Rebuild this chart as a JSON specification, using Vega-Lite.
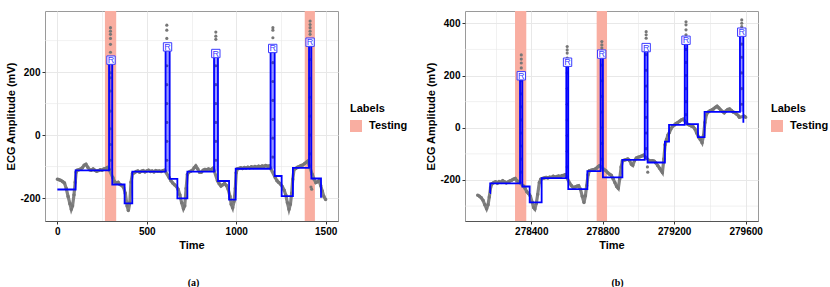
{
"$schema": "https://vega.github.io/schema/vega-lite/v6.json",
"padding": {"left": 5, "top": 10, "right": 0, "bottom": 0},
"spacing": 16,
"resolve": {"scale": {"x": "independent", "y": "independent", "color": "independent"}, "legend": {"color": "independent"}},
"config": {
 "font": "Liberation Sans",
 "view": {"stroke": "#9a9a9a", "strokeWidth": 1},
 "axis": {"labelFont": "Liberation Sans", "labelFontSize": 10, "labelFontWeight": "bold", "labelColor": "#000", "titleFont": "Liberation Sans", "titleFontSize": 11, "titleFontWeight": "bold", "titleColor": "#000", "tickColor": "#333", "tickSize": 3, "labelPadding": 2, "titlePadding": 3, "domain": false, "gridColor": "#e8e8e8", "labelOverlap": false},
 "axisX": {"domain": true, "domainColor": "#555"},
 "legend": {"titleFont": "Liberation Sans", "titleFontSize": 11, "titleFontWeight": "bold", "titleColor": "#000", "labelFont": "Liberation Sans", "labelFontSize": 11, "labelFontWeight": "bold", "labelColor": "#000", "symbolType": "square", "symbolSize": 144, "symbolStrokeWidth": 0, "symbolOpacity": 1, "labelOffset": 7, "titlePadding": 6, "padding": 0},
 "title": {"font": "Liberation Serif", "fontSize": 10, "fontWeight": "bold", "color": "#000"}
},
"datasets": {
 "gridA": [
  {"g":-100},{"g":100},{"g":300}
 ],
 "sigA": [
  {"t":0,"v":-140},{"t":10,"v":-142},{"t":20,"v":-144},{"t":30,"v":-148},{"t":40,"v":-152},{"t":50,"v":-170},{"t":60,"v":-195},{"t":70,"v":-218},{"t":78,"v":-236},{"t":85,"v":-225},{"t":93,"v":-190},{"t":100,"v":-150},{"t":105,"v":-118},{"t":110,"v":-112},{"t":120,"v":-110},{"t":130,"v":-108},{"t":140,"v":-104},{"t":150,"v":-96},{"t":160,"v":-93},{"t":170,"v":-102},{"t":180,"v":-110},{"t":190,"v":-112},{"t":200,"v":-108},{"t":210,"v":-112},{"t":220,"v":-115},{"t":230,"v":-113},{"t":240,"v":-110},{"t":250,"v":-112},{"t":260,"v":-108},{"t":270,"v":-106},{"t":280,"v":-103},{"t":290,"v":-110},
  {"t":310,"v":-135},{"t":320,"v":-148},{"t":330,"v":-152},{"t":340,"v":-150},{"t":350,"v":-157},{"t":360,"v":-160},{"t":370,"v":-166},{"t":380,"v":-185},{"t":390,"v":-225},{"t":397,"v":-240},{"t":405,"v":-215},{"t":412,"v":-150},{"t":420,"v":-122},{"t":430,"v":-120},{"t":440,"v":-116},{"t":450,"v":-114},{"t":460,"v":-118},{"t":470,"v":-115},{"t":480,"v":-113},{"t":490,"v":-117},{"t":500,"v":-114},{"t":510,"v":-112},{"t":520,"v":-116},{"t":530,"v":-114},{"t":540,"v":-117},{"t":550,"v":-113},{"t":560,"v":-115},{"t":570,"v":-114},{"t":580,"v":-116},{"t":590,"v":-113},{"t":600,"v":-112},
  {"t":625,"v":-135},{"t":635,"v":-145},{"t":645,"v":-152},{"t":655,"v":-158},{"t":665,"v":-163},{"t":675,"v":-172},{"t":685,"v":-190},{"t":695,"v":-215},{"t":705,"v":-234},{"t":712,"v":-225},{"t":720,"v":-170},{"t":727,"v":-125},{"t":735,"v":-118},{"t":745,"v":-115},{"t":755,"v":-112},{"t":765,"v":-104},{"t":774,"v":-98},{"t":785,"v":-108},{"t":795,"v":-118},{"t":805,"v":-118},{"t":815,"v":-112},{"t":825,"v":-109},{"t":835,"v":-110},{"t":845,"v":-108},{"t":855,"v":-110},{"t":865,"v":-108},{"t":872,"v":-105},
  {"t":895,"v":-145},{"t":905,"v":-155},{"t":915,"v":-162},{"t":925,"v":-158},{"t":935,"v":-154},{"t":945,"v":-160},{"t":955,"v":-172},{"t":965,"v":-195},{"t":972,"v":-220},{"t":980,"v":-231},{"t":988,"v":-210},{"t":995,"v":-170},{"t":1000,"v":-120},{"t":1006,"v":-108},{"t":1015,"v":-106},{"t":1025,"v":-104},{"t":1035,"v":-106},{"t":1045,"v":-103},{"t":1055,"v":-105},{"t":1065,"v":-102},{"t":1075,"v":-104},{"t":1085,"v":-101},{"t":1095,"v":-103},{"t":1105,"v":-100},{"t":1115,"v":-102},{"t":1125,"v":-99},{"t":1135,"v":-101},{"t":1145,"v":-98},{"t":1155,"v":-100},{"t":1165,"v":-97},{"t":1175,"v":-99},{"t":1185,"v":-98},
  {"t":1218,"v":-135},{"t":1228,"v":-145},{"t":1238,"v":-151},{"t":1248,"v":-156},{"t":1258,"v":-164},{"t":1268,"v":-175},{"t":1277,"v":-190},{"t":1286,"v":-215},{"t":1295,"v":-236},{"t":1303,"v":-220},{"t":1310,"v":-185},{"t":1316,"v":-140},{"t":1323,"v":-110},{"t":1333,"v":-106},{"t":1343,"v":-102},{"t":1353,"v":-100},{"t":1363,"v":-97},{"t":1373,"v":-95},{"t":1383,"v":-90},{"t":1393,"v":-86},{"t":1400,"v":-83},
  {"t":1425,"v":-125},{"t":1435,"v":-140},{"t":1445,"v":-151},{"t":1455,"v":-148},{"t":1463,"v":-145},{"t":1472,"v":-160},{"t":1481,"v":-178},{"t":1490,"v":-195},{"t":1500,"v":-205}
 ],
 "pkA": [
  {"t":297,"v":-80},{"t":297,"v":-30},{"t":297,"v":20},{"t":297,"v":76},{"t":297,"v":140},{"t":297,"v":182},{"t":297,"v":198},{"t":297,"v":263},{"t":297,"v":288},{"t":297,"v":307},{"t":297,"v":320},{"t":297,"v":330},{"t":297,"v":341},
  {"t":612,"v":-80},{"t":612,"v":-20},{"t":612,"v":40},{"t":612,"v":100},{"t":612,"v":160},{"t":612,"v":220},{"t":612,"v":307},{"t":612,"v":333},{"t":612,"v":349},
  {"t":886,"v":-80},{"t":886,"v":-20},{"t":886,"v":40},{"t":886,"v":100},{"t":886,"v":160},{"t":886,"v":220},{"t":886,"v":304},{"t":886,"v":314},{"t":886,"v":327},
  {"t":1205,"v":-70},{"t":1205,"v":-10},{"t":1205,"v":50},{"t":1205,"v":110},{"t":1205,"v":170},{"t":1205,"v":230},{"t":1205,"v":309},{"t":1205,"v":333},{"t":1205,"v":341},
  {"t":1413,"v":-60},{"t":1413,"v":0},{"t":1413,"v":60},{"t":1413,"v":120},{"t":1413,"v":180},{"t":1413,"v":240},{"t":1413,"v":320},{"t":1413,"v":330},{"t":1413,"v":341},{"t":1413,"v":351},{"t":1413,"v":362},{"t":1418,"v":-165},{"t":1422,"v":-172}
 ],
 "stepA": [
  {"t":0,"v":-173},{"t":102,"v":-112},{"t":289,"v":235},{"t":307,"v":-157},{"t":376,"v":-217},{"t":419,"v":-116},{"t":605,"v":280},{"t":628,"v":-139},{"t":671,"v":-201},{"t":727,"v":-116},{"t":876,"v":259},{"t":898,"v":-146},{"t":960,"v":-205},{"t":997,"v":-107},{"t":1192,"v":275},{"t":1215,"v":-130},{"t":1254,"v":-194},{"t":1317,"v":-104},{"t":1407,"v":296},{"t":1420,"v":-138},{"t":1474,"v":-199}
 ],
 "bandA": [
  {"t1":289,"t2":307,"v1":-112,"v2":235},{"t1":605,"t2":628,"v1":-116,"v2":280},{"t1":876,"t2":898,"v1":-116,"v2":259},{"t1":1192,"t2":1215,"v1":-107,"v2":275},{"t1":1407,"t2":1420,"v1":-104,"v2":296}
 ],
 "rA": [
  {"t":300,"v":238,"label":"R"},{"t":616,"v":280,"label":"R"},{"t":886,"v":259,"label":"R"},{"t":1204,"v":275,"label":"R"},{"t":1413,"v":295,"label":"R"}
 ],
 "testA": [
  {"t1":266,"t2":329,"label":"Testing"},{"t1":1383,"t2":1440,"label":"Testing"}
 ],
 "gridB": [
  {"g":-300},{"g":-100},{"g":100},{"g":300}
 ],
 "sigB": [
  {"t":278100,"v":-258},{"t":278110,"v":-262},{"t":278120,"v":-268},{"t":278130,"v":-278},{"t":278140,"v":-295},{"t":278150,"v":-310},{"t":278158,"v":-295},{"t":278165,"v":-265},{"t":278172,"v":-230},{"t":278180,"v":-214},{"t":278190,"v":-210},{"t":278200,"v":-207},{"t":278210,"v":-212},{"t":278220,"v":-206},{"t":278230,"v":-209},{"t":278240,"v":-203},{"t":278250,"v":-207},{"t":278260,"v":-211},{"t":278270,"v":-208},{"t":278280,"v":-204},{"t":278290,"v":-201},{"t":278300,"v":-197},{"t":278310,"v":-194},{"t":278320,"v":-203},{"t":278330,"v":-207},
  {"t":278355,"v":-222},{"t":278365,"v":-232},{"t":278375,"v":-245},{"t":278385,"v":-252},{"t":278395,"v":-262},{"t":278405,"v":-285},{"t":278413,"v":-305},{"t":278420,"v":-311},{"t":278428,"v":-290},{"t":278436,"v":-255},{"t":278445,"v":-210},{"t":278453,"v":-197},{"t":278463,"v":-194},{"t":278473,"v":-192},{"t":278483,"v":-190},{"t":278493,"v":-192},{"t":278503,"v":-189},{"t":278513,"v":-190},{"t":278523,"v":-186},{"t":278533,"v":-189},{"t":278543,"v":-187},{"t":278553,"v":-185},{"t":278563,"v":-187},{"t":278573,"v":-183},{"t":278583,"v":-182},{"t":278590,"v":-180},
  {"t":278615,"v":-212},{"t":278625,"v":-222},{"t":278635,"v":-229},{"t":278645,"v":-227},{"t":278655,"v":-224},{"t":278665,"v":-222},{"t":278675,"v":-235},{"t":278685,"v":-262},{"t":278695,"v":-286},{"t":278703,"v":-260},{"t":278710,"v":-222},{"t":278718,"v":-180},{"t":278725,"v":-165},{"t":278735,"v":-163},{"t":278745,"v":-161},{"t":278755,"v":-159},{"t":278765,"v":-155},{"t":278775,"v":-148},{"t":278782,"v":-145},
  {"t":278808,"v":-160},{"t":278818,"v":-165},{"t":278828,"v":-172},{"t":278838,"v":-178},{"t":278848,"v":-182},{"t":278858,"v":-195},{"t":278868,"v":-210},{"t":278878,"v":-225},{"t":278887,"v":-232},{"t":278895,"v":-195},{"t":278903,"v":-150},{"t":278910,"v":-127},{"t":278920,"v":-124},{"t":278930,"v":-122},{"t":278940,"v":-120},{"t":278950,"v":-125},{"t":278960,"v":-140},{"t":278968,"v":-144},{"t":278978,"v":-125},{"t":278988,"v":-116},{"t":278998,"v":-113},{"t":279008,"v":-111},{"t":279018,"v":-108},{"t":279028,"v":-105},
  {"t":279058,"v":-125},{"t":279068,"v":-127},{"t":279078,"v":-126},{"t":279088,"v":-128},{"t":279098,"v":-135},{"t":279108,"v":-145},{"t":279118,"v":-155},{"t":279128,"v":-165},{"t":279134,"v":-171},{"t":279142,"v":-120},{"t":279149,"v":-65},{"t":279157,"v":-45},{"t":279165,"v":-28},{"t":279173,"v":-18},{"t":279181,"v":-5},{"t":279190,"v":5},{"t":279200,"v":10},{"t":279210,"v":16},{"t":279220,"v":20},{"t":279230,"v":25},{"t":279240,"v":30},{"t":279250,"v":33},
  {"t":279276,"v":13},{"t":279286,"v":10},{"t":279296,"v":7},{"t":279306,"v":4},{"t":279316,"v":-5},{"t":279326,"v":-20},{"t":279336,"v":-35},{"t":279346,"v":-45},{"t":279356,"v":-57},{"t":279364,"v":-30},{"t":279372,"v":20},{"t":279380,"v":50},{"t":279390,"v":60},{"t":279400,"v":65},{"t":279410,"v":68},{"t":279420,"v":72},{"t":279430,"v":78},{"t":279440,"v":82},{"t":279450,"v":76},{"t":279460,"v":68},{"t":279470,"v":62},{"t":279480,"v":57},{"t":279490,"v":64},{"t":279500,"v":70},{"t":279510,"v":72},{"t":279520,"v":66},{"t":279530,"v":60},{"t":279540,"v":57},{"t":279550,"v":52},{"t":279560,"v":45},{"t":279565,"v":40},
  {"t":279592,"v":44},{"t":279600,"v":40}
 ],
 "pkB": [
  {"t":278344,"v":-170},{"t":278344,"v":-120},{"t":278344,"v":-70},{"t":278344,"v":-20},{"t":278344,"v":30},{"t":278344,"v":80},{"t":278344,"v":130},{"t":278344,"v":180},{"t":278344,"v":229},{"t":278344,"v":248},{"t":278344,"v":263},{"t":278344,"v":279},
  {"t":278601,"v":-150},{"t":278601,"v":-90},{"t":278601,"v":-30},{"t":278601,"v":30},{"t":278601,"v":90},{"t":278601,"v":150},{"t":278601,"v":210},{"t":278601,"v":267},{"t":278601,"v":286},{"t":278601,"v":298},{"t":278601,"v":311},
  {"t":278795,"v":-120},{"t":278795,"v":-60},{"t":278795,"v":0},{"t":278795,"v":60},{"t":278795,"v":120},{"t":278795,"v":180},{"t":278795,"v":240},{"t":278795,"v":305},{"t":278795,"v":317},{"t":278795,"v":330},
  {"t":279043,"v":-80},{"t":279043,"v":-20},{"t":279043,"v":40},{"t":279043,"v":100},{"t":279043,"v":160},{"t":279043,"v":220},{"t":279043,"v":280},{"t":279043,"v":343},{"t":279043,"v":356},{"t":279043,"v":368},{"t":279050,"v":-150},{"t":279052,"v":-170},
  {"t":279266,"v":50},{"t":279266,"v":100},{"t":279266,"v":150},{"t":279266,"v":200},{"t":279266,"v":250},{"t":279266,"v":300},{"t":279266,"v":356},{"t":279266,"v":375},{"t":279266,"v":394},{"t":279266,"v":406},
  {"t":279578,"v":90},{"t":279578,"v":150},{"t":279578,"v":210},{"t":279578,"v":270},{"t":279578,"v":320},{"t":279578,"v":368},{"t":279578,"v":387},{"t":279578,"v":400},{"t":279578,"v":413}
 ],
 "stepB": [
  {"t":278169,"v":-250},{"t":278170,"v":-213},{"t":278337,"v":199},{"t":278350,"v":-225},{"t":278391,"v":-286},{"t":278458,"v":-193},{"t":278596,"v":251},{"t":278607,"v":-235},{"t":278714,"v":-166},{"t":278788,"v":282},{"t":278801,"v":-190},{"t":278910,"v":-123},{"t":279035,"v":307},{"t":279051,"v":-133},{"t":279148,"v":-53},{"t":279171,"v":11},{"t":279259,"v":336},{"t":279273,"v":14},{"t":279333,"v":-36},{"t":279370,"v":61},{"t":279568,"v":366},{"t":279587,"v":19}
 ],
 "bandB": [
  {"t1":278337,"t2":278350,"v1":-213,"v2":199},{"t1":278596,"t2":278607,"v1":-193,"v2":251},{"t1":278788,"t2":278801,"v1":-166,"v2":282},{"t1":279035,"t2":279051,"v1":-123,"v2":307},{"t1":279259,"t2":279273,"v1":11,"v2":336},{"t1":279568,"t2":279587,"v1":61,"v2":366}
 ],
 "rB": [
  {"t":278344,"v":199,"label":"R"},{"t":278603,"v":251,"label":"R"},{"t":278794,"v":282,"label":"R"},{"t":279043,"v":307,"label":"R"},{"t":279266,"v":335,"label":"R"},{"t":279578,"v":366,"label":"R"}
 ],
 "testB": [
  {"t1":278309,"t2":278372,"label":"Testing"},{"t1":278766,"t2":278824,"label":"Testing"}
 ]
},
"hconcat": [
 {
  "width": 293, "height": 210,
  "title": {"text": "(a)", "orient": "bottom", "anchor": "middle", "frame": "group", "offset": 28, "dx": 2},
  "layer": [
   {"data": {"name": "gridA"}, "mark": {"type": "rule", "color": "#e8e8e8", "strokeWidth": 0.6},
    "encoding": {
     "y": {"field": "g", "type": "quantitative", "title": "ECG Amplitude (mV)", "scale": {"domain": [-273, 394], "nice": false, "zero": false},
       "axis": {"values": [-200, 0, 200], "labelExpr": "'' + datum.value", "labelOverlap": false}}
    }},
   {"data": {"name": "testA"}, "mark": {"type": "rect"},
    "encoding": {
     "x": {"field": "t1", "type": "quantitative", "title": "Time", "scale": {"domain": [-69, 1569], "nice": false, "zero": false},
       "axis": {"values": [0,250,500,750,1000,1250,1500], "labelOverlap": false, "labelExpr": "datum.value % 500 === 0 ? '' + datum.value : ''", "tickOpacity": {"condition": {"test": "datum.value % 500 === 0", "value": 1}, "value": 0}, "gridWidth": {"condition": {"test": "datum.value % 500 === 0", "value": 1}, "value": 0.6}}},
     "x2": {"field": "t2"},
     "color": {"field": "label", "type": "nominal", "scale": {"domain": ["Testing"], "range": ["#F9AEA1"]}, "legend": {"title": "Labels", "orient": "none", "legendX": 305, "legendY": 92}}
    }},
   {"data": {"name": "sigA"}, "mark": {"type": "line", "color": "#828282", "strokeWidth": 3.2},
    "encoding": {
     "x": {"field": "t", "type": "quantitative", "title": "Time", "scale": {"domain": [-69, 1569], "nice": false, "zero": false}},
     "y": {"field": "v", "type": "quantitative", "title": "ECG Amplitude (mV)", "scale": {"domain": [-273, 394], "nice": false, "zero": false}}
    }},
   {"data": {"name": "sigA"}, "mark": {"type": "point", "filled": true, "color": "#777777", "size": 12, "opacity": 1},
    "encoding": {
     "x": {"field": "t", "type": "quantitative", "title": "Time", "scale": {"domain": [-69, 1569], "nice": false, "zero": false}},
     "y": {"field": "v", "type": "quantitative", "title": "ECG Amplitude (mV)", "scale": {"domain": [-273, 394], "nice": false, "zero": false}}
    }},
   {"data": {"name": "pkA"}, "mark": {"type": "point", "filled": true, "color": "#777777", "size": 10, "opacity": 1},
    "encoding": {
     "x": {"field": "t", "type": "quantitative", "title": "Time", "scale": {"domain": [-69, 1569], "nice": false, "zero": false}},
     "y": {"field": "v", "type": "quantitative", "title": "ECG Amplitude (mV)", "scale": {"domain": [-273, 394], "nice": false, "zero": false}}
    }},
   {"data": {"name": "bandA"}, "mark": {"type": "rect", "color": "#0000ff", "opacity": 0.4},
    "encoding": {
     "x": {"field": "t1", "type": "quantitative", "title": "Time", "scale": {"domain": [-69, 1569], "nice": false, "zero": false}},
     "x2": {"field": "t2"},
     "y": {"field": "v1", "type": "quantitative", "title": "ECG Amplitude (mV)", "scale": {"domain": [-273, 394], "nice": false, "zero": false}},
     "y2": {"field": "v2"}
    }},
   {"data": {"name": "stepA"}, "mark": {"type": "line", "interpolate": "step-after", "color": "#0000ff", "strokeWidth": 1.8},
    "encoding": {
     "x": {"field": "t", "type": "quantitative", "title": "Time", "scale": {"domain": [-69, 1569], "nice": false, "zero": false}},
     "y": {"field": "v", "type": "quantitative", "title": "ECG Amplitude (mV)", "scale": {"domain": [-273, 394], "nice": false, "zero": false}}
    }},
   {"data": {"name": "rA"}, "mark": {"type": "point", "shape": "square", "filled": true, "fill": "#ffffff", "stroke": "#3a3aff", "strokeWidth": 1, "size": 70, "opacity": 1},
    "encoding": {
     "x": {"field": "t", "type": "quantitative", "title": "Time", "scale": {"domain": [-69, 1569], "nice": false, "zero": false}},
     "y": {"field": "v", "type": "quantitative", "title": "ECG Amplitude (mV)", "scale": {"domain": [-273, 394], "nice": false, "zero": false}}
    }},
   {"data": {"name": "rA"}, "mark": {"type": "text", "color": "#3a3aff", "fontSize": 9, "font": "Liberation Sans", "baseline": "middle", "align": "center"},
    "encoding": {
     "x": {"field": "t", "type": "quantitative", "title": "Time", "scale": {"domain": [-69, 1569], "nice": false, "zero": false}},
     "y": {"field": "v", "type": "quantitative", "title": "ECG Amplitude (mV)", "scale": {"domain": [-273, 394], "nice": false, "zero": false}},
     "text": {"field": "label"}
    }}
  ]
 },
 {
  "width": 293, "height": 210,
  "title": {"text": "(b)", "orient": "bottom", "anchor": "middle", "frame": "group", "offset": 28, "dx": 6},
  "layer": [
   {"data": {"name": "gridB"}, "mark": {"type": "rule", "color": "#e8e8e8", "strokeWidth": 0.6},
    "encoding": {
     "y": {"field": "g", "type": "quantitative", "title": "ECG Amplitude (mV)", "scale": {"domain": [-357, 447], "nice": false, "zero": false},
       "axis": {"values": [-200, 0, 200, 400], "labelExpr": "'' + datum.value", "labelOverlap": false}}
    }},
   {"data": {"name": "testB"}, "mark": {"type": "rect"},
    "encoding": {
     "x": {"field": "t1", "type": "quantitative", "title": "Time", "scale": {"domain": [278029, 279669], "nice": false, "zero": false},
       "axis": {"values": [278200,278400,278600,278800,279000,279200,279400,279600], "labelOverlap": false, "labelExpr": "(datum.value - 278400) % 400 === 0 ? '' + datum.value : ''", "tickOpacity": {"condition": {"test": "(datum.value - 278400) % 400 === 0", "value": 1}, "value": 0}, "gridWidth": {"condition": {"test": "(datum.value - 278400) % 400 === 0", "value": 1}, "value": 0.6}}},
     "x2": {"field": "t2"},
     "color": {"field": "label", "type": "nominal", "scale": {"domain": ["Testing"], "range": ["#F9AEA1"]}, "legend": {"title": "Labels", "orient": "none", "legendX": 306, "legendY": 92}}
    }},
   {"data": {"name": "sigB"}, "mark": {"type": "line", "color": "#828282", "strokeWidth": 3.2},
    "encoding": {
     "x": {"field": "t", "type": "quantitative", "title": "Time", "scale": {"domain": [278029, 279669], "nice": false, "zero": false}},
     "y": {"field": "v", "type": "quantitative", "title": "ECG Amplitude (mV)", "scale": {"domain": [-357, 447], "nice": false, "zero": false}}
    }},
   {"data": {"name": "sigB"}, "mark": {"type": "point", "filled": true, "color": "#777777", "size": 12, "opacity": 1},
    "encoding": {
     "x": {"field": "t", "type": "quantitative", "title": "Time", "scale": {"domain": [278029, 279669], "nice": false, "zero": false}},
     "y": {"field": "v", "type": "quantitative", "title": "ECG Amplitude (mV)", "scale": {"domain": [-357, 447], "nice": false, "zero": false}}
    }},
   {"data": {"name": "pkB"}, "mark": {"type": "point", "filled": true, "color": "#777777", "size": 10, "opacity": 1},
    "encoding": {
     "x": {"field": "t", "type": "quantitative", "title": "Time", "scale": {"domain": [278029, 279669], "nice": false, "zero": false}},
     "y": {"field": "v", "type": "quantitative", "title": "ECG Amplitude (mV)", "scale": {"domain": [-357, 447], "nice": false, "zero": false}}
    }},
   {"data": {"name": "bandB"}, "mark": {"type": "rect", "color": "#0000ff", "opacity": 0.4},
    "encoding": {
     "x": {"field": "t1", "type": "quantitative", "title": "Time", "scale": {"domain": [278029, 279669], "nice": false, "zero": false}},
     "x2": {"field": "t2"},
     "y": {"field": "v1", "type": "quantitative", "title": "ECG Amplitude (mV)", "scale": {"domain": [-357, 447], "nice": false, "zero": false}},
     "y2": {"field": "v2"}
    }},
   {"data": {"name": "stepB"}, "mark": {"type": "line", "interpolate": "step-after", "color": "#0000ff", "strokeWidth": 1.8},
    "encoding": {
     "x": {"field": "t", "type": "quantitative", "title": "Time", "scale": {"domain": [278029, 279669], "nice": false, "zero": false}},
     "y": {"field": "v", "type": "quantitative", "title": "ECG Amplitude (mV)", "scale": {"domain": [-357, 447], "nice": false, "zero": false}}
    }},
   {"data": {"name": "rB"}, "mark": {"type": "point", "shape": "square", "filled": true, "fill": "#ffffff", "stroke": "#3a3aff", "strokeWidth": 1, "size": 70, "opacity": 1},
    "encoding": {
     "x": {"field": "t", "type": "quantitative", "title": "Time", "scale": {"domain": [278029, 279669], "nice": false, "zero": false}},
     "y": {"field": "v", "type": "quantitative", "title": "ECG Amplitude (mV)", "scale": {"domain": [-357, 447], "nice": false, "zero": false}}
    }},
   {"data": {"name": "rB"}, "mark": {"type": "text", "color": "#3a3aff", "fontSize": 9, "font": "Liberation Sans", "baseline": "middle", "align": "center"},
    "encoding": {
     "x": {"field": "t", "type": "quantitative", "title": "Time", "scale": {"domain": [278029, 279669], "nice": false, "zero": false}},
     "y": {"field": "v", "type": "quantitative", "title": "ECG Amplitude (mV)", "scale": {"domain": [-357, 447], "nice": false, "zero": false}},
     "text": {"field": "label"}
    }}
  ]
 }
]
}
